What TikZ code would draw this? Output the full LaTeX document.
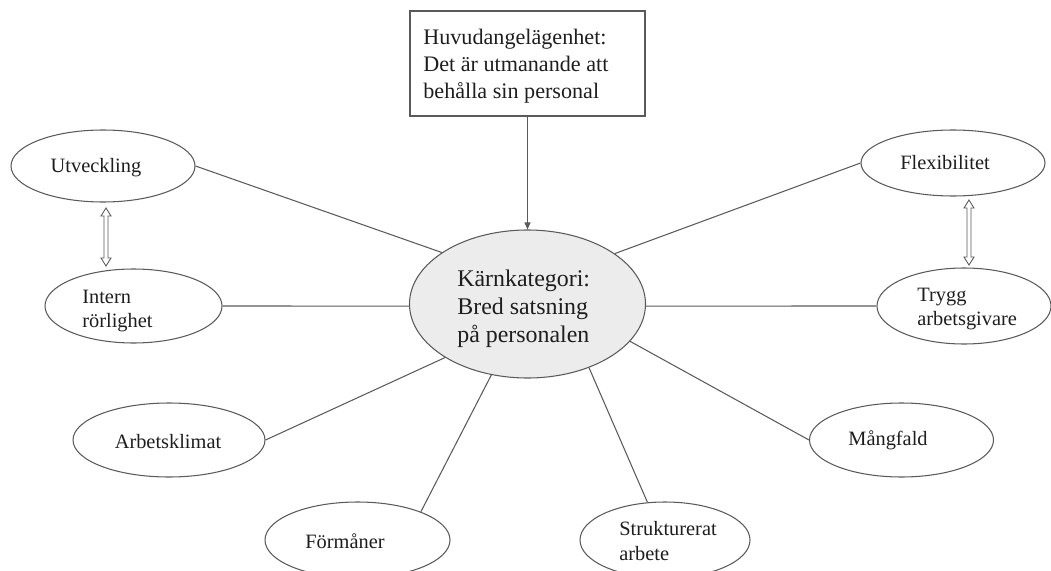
\documentclass[tikz,border=0pt]{standalone}
\usepackage{fontspec}
\setmainfont{Liberation Serif}
\usetikzlibrary{shapes.geometric,arrows.meta}
\definecolor{lin}{HTML}{5A5A5A}
\definecolor{txt}{HTML}{1E1E1E}
\definecolor{corefill}{HTML}{ECECEC}
\tikzset{
  oval/.style={ellipse, draw=lin, line width=0.6pt, inner sep=0pt, fill=white},
  lbl/.style={inner sep=0pt, text=txt, align=left, font=\fontsize{11.6}{14.2}\selectfont},
  conn/.style={draw=lin, line width=0.6pt},
  dblarrow/.style={draw=lin, line width=0.5pt, fill=white, line join=miter},
}
\begin{document}
\begin{tikzpicture}[x=0.02cm, y=-0.02cm]
\useasboundingbox (0,0) rectangle (1051,571);
\clip (0,0) rectangle (1051,571);

% top box
\node[draw=lin, line width=0.6pt, minimum width=235*0.02cm, minimum height=105*0.02cm, inner sep=0pt] (box) at (527.5,63.5) {};
\node[inner sep=0pt, anchor=west, align=left, text=txt, font=\fontsize{12.6}{15.2}\selectfont] (boxt) at (423,66) {Huvudangelägenhet:\\Det är utmanande att\\behålla sin personal};

% core
\node[ellipse, draw=lin, line width=0.6pt, fill=corefill, minimum width=236*0.02cm, minimum height=148*0.02cm, inner sep=0pt] (core) at (527.5,304) {};
\node[inner sep=0pt, anchor=west, align=left, text=txt, font=\fontsize{13.6}{15.8}\selectfont] (coret) at (457,309) {Kärnkategori:\\Bred satsning\\på personalen};

% satellites
\node[oval, minimum width=184*0.02cm, minimum height=72*0.02cm] (utv) at (103,166) {};
\node[lbl] (utvt) at (96,168) {Utveckling};

\node[oval, minimum width=177*0.02cm, minimum height=74*0.02cm] (int) at (133.5,306) {};
\node[lbl, anchor=west] (intt) at (82,311) {Intern\\rörlighet};

\node[oval, minimum width=184*0.02cm, minimum height=66*0.02cm] (flex) at (953,163) {};
\node[lbl] (flext) at (945,163) {Flexibilitet};

\node[oval, minimum width=174*0.02cm, minimum height=76*0.02cm] (tryg) at (964,306) {};
\node[lbl, anchor=west] (trygt) at (917,309) {Trygg\\arbetsgivare};

\node[oval, minimum width=192*0.02cm, minimum height=74*0.02cm] (klim) at (169,440) {};
\node[lbl] (klimt) at (168,442) {Arbetsklimat};

\node[oval, minimum width=184*0.02cm, minimum height=74*0.02cm] (mang) at (901.5,440) {};
\node[lbl] (mangt) at (888,440) {Mångfald};

\node[oval, minimum width=185*0.02cm, minimum height=76*0.02cm] (form) at (357.5,540) {};
\node[lbl] (formt) at (345,541) {Förmåner};

\node[oval, minimum width=170*0.02cm, minimum height=76*0.02cm] (strk) at (665,540) {};
\node[lbl, anchor=west] (strkt) at (619,541) {Strukturerat\\arbete};

% connectors
\draw[conn, -{Triangle[length=4pt,width=3.4pt]}] (box.south) -- (core.north);
\draw[conn] (utv.east) -- (core.149);
\draw[conn] (flex.west) -- (core.30);
\draw[conn] (int.east) -- (core.181);
\draw[conn] (tryg.west) -- (core.359);
\draw[conn] (klim.east) -- (core.213);
\draw[conn] (mang.west) -- (core.340);
\draw[conn] (form.24) -- (core.243);
\draw[conn] (strk.115) -- (core.314);

% double arrows
\coordinate (dl) at (106,208);
\coordinate (dr) at (969,200);
\draw[dblarrow, shift={(dl)}] (0,0) -- (5,8) -- (2,8) -- (2,50) -- (5,50) -- (0,58) -- (-5,50) -- (-2,50) -- (-2,8) -- (-5,8) -- cycle;
\draw[dblarrow, shift={(dr)}] (0,0) -- (5,8) -- (2,8) -- (2,57) -- (5,57) -- (0,65) -- (-5,57) -- (-2,57) -- (-2,8) -- (-5,8) -- cycle;
\end{tikzpicture}
\end{document}
